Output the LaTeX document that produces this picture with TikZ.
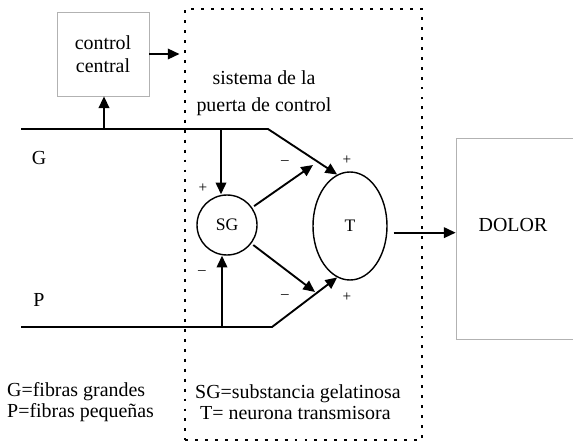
\documentclass[tikz,border=0pt]{standalone}
\usepackage{fontspec}
\setmainfont{Liberation Serif}
\usetikzlibrary{arrows.meta,shapes.geometric,calc}

\tikzset{
  txt/.style={font=\fontsize{17}{20}\selectfont},
  signo/.style={font=\fontsize{13}{14}\selectfont, inner sep=0pt},
  caja/.style={draw=gray!60, line width=0.6pt},
  flecha/.style={line width=1.6pt, -{Triangle[length=10pt,width=9pt]}},
}

\begin{document}
\begin{tikzpicture}[x=0.3mm,y=-0.3mm]
  \useasboundingbox (0,0) rectangle (573,443);

  \node[caja, txt, align=center, minimum width=27.6mm, minimum height=25.2mm] (ctrl) at (103,54) {control\\central};
  \node[draw, line width=1.4pt, dash pattern=on 2.5pt off 6pt, minimum width=71.1mm, minimum height=129.3mm] (gate) at (303.5,224.5) {};
  \node[caja, minimum width=37.2mm, minimum height=60.3mm] (dolorbox) at (518,238.5) {};
  \node[txt] (dolor) at (513,225) {DOLOR};
  \node[align=center, font=\fontsize{17}{23}\selectfont] (puerta) at (264,93.5) {sistema de la\\puerta de control};

  \node[draw, circle, line width=1.2pt, minimum size=18mm, inner sep=0pt, font=\fontsize{15}{18}\selectfont] (SG) at (227,225) {SG};
  \node[draw, ellipse, line width=1.2pt, minimum width=22.2mm, minimum height=32.4mm, inner sep=0pt, font=\fontsize{15}{18}\selectfont] (T) at (350,226) {T};

  % fibras grandes
  \coordinate (G0) at (21,129);
  \coordinate (G1) at (104,129);
  \coordinate (G2) at (221,129);
  \coordinate (G3) at (268,129);
  \draw[flecha] (G0) -- (G3) -- (T.104);
  \draw[flecha] (G1) -- (G1 |- ctrl.south);
  \draw[flecha] (G2) -- (G2 |- SG.north);

  % fibras pequenas
  \coordinate (P0) at (21,327);
  \coordinate (P2) at (222,327);
  \coordinate (P3) at (272,327);
  \draw[flecha] (P0) -- (P3) -- (T.-104);
  \draw[flecha] (P2) -- (P2 |- SG.south);

  \coordinate (u1) at (313,165);
  \coordinate (u2) at (315,292);
  \draw[flecha, shorten <=2pt] (SG) -- (u1);
  \draw[flecha, shorten <=2pt] (SG) -- (u2);

  \draw[flecha, shorten >=4pt] (ctrl.east) -- (ctrl.east -| gate.west);
  \draw[flecha] ($(T.east)+(1.8mm,-2mm)$) -- ($(T.east -| dolorbox.west)+(0,-2mm)$);

  \node[signo] (sgmas) at (203,188) {+};
  \node[signo] (sgmenos) at (202,273) {–};
  \node[signo] (tmenos1) at (285,163) {–};
  \node[signo] (tmas1) at (347,160) {+};
  \node[signo] (tmenos2) at (285,297) {–};
  \node[signo] (tmas2) at (347,297) {+};

  \node[txt] (G) at (39,158) {G};
  \node[txt] (P) at (39,300) {P};

  \node[anchor=west, align=left, inner sep=0pt, font=\fontsize{17}{18}\selectfont] (leyfibras) at (7,402.5) {G=fibras grandes\\P=fibras pequeñas};
  \node[anchor=west, align=left, inner sep=0pt, font=\fontsize{17}{18}\selectfont] (leysg) at (195,402.5) {SG=substancia gelatinosa\\\hspace*{1.5mm}T= neurona transmisora};
\end{tikzpicture}
\end{document}
